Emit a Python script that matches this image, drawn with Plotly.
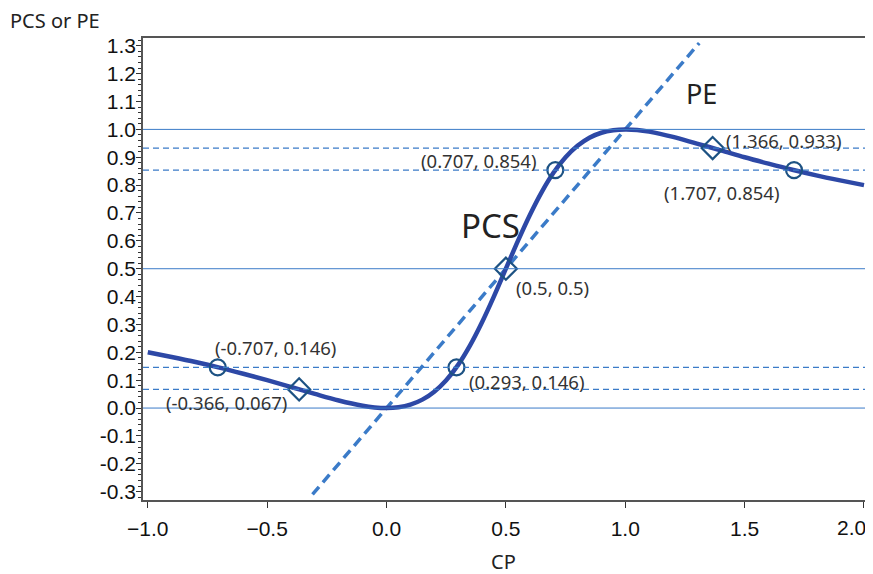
import plotly.graph_objects as go

# PCS curve points
cp = [-1.0, -0.9, -0.8, -0.7, -0.6, -0.5, -0.4, -0.3, -0.2, -0.1, -0.05, 0.0, 0.05, 0.1, 0.15, 0.2,
      0.25, 0.3, 0.35, 0.4, 0.45, 0.5, 0.55, 0.6, 0.65, 0.7, 0.75, 0.8, 0.85, 0.9, 0.95, 1.0,
      1.05, 1.1, 1.2, 1.3, 1.4, 1.5, 1.6, 1.7, 1.8, 1.9, 2.0]
pcs = [0.200, 0.183, 0.165, 0.145, 0.123, 0.100, 0.0755, 0.0506, 0.027, 0.0082, 0.0023, 0.0, 0.0028, 0.0122, 0.0302, 0.0588,
       0.100, 0.155, 0.225, 0.308, 0.401, 0.500, 0.599, 0.692, 0.775, 0.845, 0.900, 0.941, 0.970, 0.988, 0.997, 1.000,
       0.998, 0.992, 0.973, 0.949, 0.925, 0.900, 0.877, 0.855, 0.835, 0.817, 0.800]

# PE line (PE = CP)
pe_x = [-0.31, 1.31]
pe_y = [-0.31, 1.31]

# reference levels
solid_levels = [0.0, 0.5, 1.0]
dashed_levels = [0.067, 0.146, 0.854, 0.933]

# marked points
circle_x = [-0.707, 0.293, 0.707, 1.707]
circle_y = [0.146, 0.146, 0.854, 0.854]
diamond_x = [-0.366, 0.5, 1.366]
diamond_y = [0.067, 0.5, 0.933]

# point labels
label_text = ["(-0.707, 0.146)", "(-0.366, 0.067)", "(0.293, 0.146)", "(0.5, 0.5)",
              "(0.707, 0.854)", "(1.366, 0.933)", "(1.707, 0.854)"]
label_x = [-0.707, -0.366, 0.293, 0.5, 0.707, 1.366, 1.707]
label_y = [0.146, 0.067, 0.146, 0.5, 0.854, 0.933, 0.854]

y_ticks = [round(-0.3 + 0.1 * i, 1) for i in range(17)]
x_ticks = [-1.0, -0.5, 0.0, 0.5, 1.0, 1.5, 2.0]
x_ticklabels = ["\u22121.0", "\u22120.5", "0.0", "0.5", "1.0", "1.5", "2.0"]
y_ticklabels = [("-" + f"{abs(v):.1f}") if v < 0 else f"{v:.1f}" for v in y_ticks]

LINE_C = "#3B7BC8"
CURVE_C = "#2D48A6"
MARK_C = "#1D5283"
AXIS_C = "#555555"

fig = go.Figure()

for lv in solid_levels:
    fig.add_hline(y=lv, line=dict(color=LINE_C, width=1))
for lv in dashed_levels:
    fig.add_hline(y=lv, line=dict(color=LINE_C, width=1.2, dash="6px,4px"))

fig.add_trace(go.Scatter(x=pe_x, y=pe_y, mode="lines",
                         line=dict(color=LINE_C, width=3.5, dash="10px,6px"), hoverinfo="skip"))
fig.add_trace(go.Scatter(x=cp, y=pcs, mode="lines", line=dict(color=CURVE_C, width=4.5, shape="spline"),
                         hoverinfo="skip"))
fig.add_trace(go.Scatter(x=circle_x, y=circle_y, mode="markers",
                         marker=dict(symbol="circle-open", size=16, color=MARK_C, line=dict(width=2.2, color=MARK_C))))
fig.add_trace(go.Scatter(x=diamond_x, y=diamond_y, mode="markers",
                         marker=dict(symbol="diamond-open", size=17, color=MARK_C, line=dict(width=2.2, color=MARK_C))))

# label offsets (pixels; +dy = downward)
offsets = [(58, -20), (-73, 13), (70, 14), (47, 19), (-77, -10), (71, -8), (-73, 22)]
for t, x, y, (ax, ay) in zip(label_text, label_x, label_y, offsets):
    fig.add_annotation(x=x, y=y, text=t, showarrow=False, xshift=ax, yshift=-ay,
                       font=dict(family="Noto Sans", size=18.5, color="#333333"))

fig.add_annotation(x=0.437, y=0.656, text="PCS", showarrow=False,
                   font=dict(family="Noto Sans", size=33, color="#222222"))
fig.add_annotation(x=1.32, y=1.13, text="PE", showarrow=False,
                   font=dict(family="Noto Sans", size=27, color="#222222"))

fig.add_annotation(xref="paper", yref="paper", x=-135 / 726, y=1 + 18 / 462, xanchor="left", yanchor="middle",
                   text="PCS or PE", showarrow=False, font=dict(family="Noto Sans", size=20, color="#222222"))
fig.add_annotation(xref="paper", yref="paper", x=0.497, y=-61 / 462, xanchor="center", yanchor="middle",
                   text="CP", showarrow=False, font=dict(family="Noto Sans", size=20, color="#222222"))

# the last x tick label sits against the right edge, so it is placed inside the page
last_label = x_ticklabels[-1]
x_ticklabels_shown = x_ticklabels[:-1] + [""]
fig.add_annotation(xref="paper", yref="paper", x=1 - 1 / 726, y=-27 / 462, xanchor="right", yanchor="middle",
                   text=last_label, showarrow=False, font=dict(family="Liberation Sans", size=21, color="#111111"))

# page body has an 8px margin, so the figure is shrunk by that amount
fig.update_layout(
    width=865, height=566,
    margin=dict(l=135, r=4, t=30, b=74, autoexpand=False),
    plot_bgcolor="white", paper_bgcolor="white",
    showlegend=False,
    font=dict(family="Liberation Sans", size=21, color="#111111"),
)
fig.update_xaxes(range=[-1.02, 2.021], tickvals=x_ticks, ticktext=x_ticklabels_shown, automargin=False,
                 showgrid=False, zeroline=False, showline=True, linecolor=AXIS_C, linewidth=1.5,
                 mirror=True, ticks="outside", ticklen=6, tickcolor="#333333", ticklabelstandoff=3)
fig.update_yaxes(range=[-0.33, 1.328], tickvals=y_ticks, ticktext=y_ticklabels, automargin=False,
                 showgrid=False, zeroline=False, showline=True, linecolor=AXIS_C, linewidth=1.5,
                 mirror=True, ticks="outside", ticklen=5, tickcolor="#333333", ticklabelstandoff=-4,
                 minor=dict(dtick=0.02, ticks="outside", ticklen=3, tickcolor="#333333", showgrid=False))

fig.write_html("out.html")
